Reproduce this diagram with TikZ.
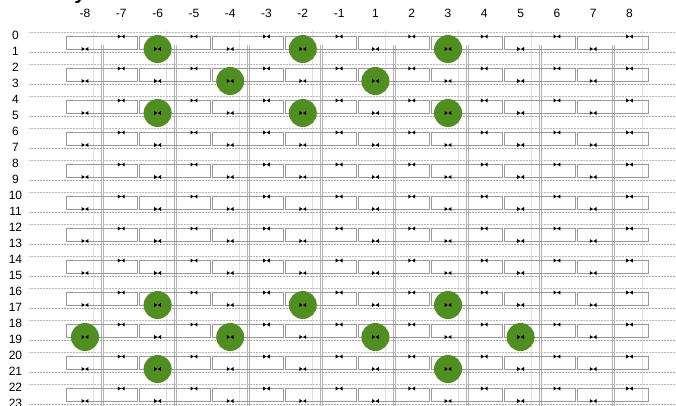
\documentclass[tikz,border=0pt]{standalone}
\usepackage{fontspec}
\setmainfont{Liberation Sans}
\usetikzlibrary{arrows.meta,positioning}
\definecolor{qgreen}{RGB}{80,142,34}

\begin{document}
\begin{tikzpicture}[
  x=1pt, y=-1pt,
  font=\fontsize{12}{14}\selectfont,
  rowline/.style={draw=black!28, densely dotted, line width=0.5pt},
  cell/.style={draw=black!40, line width=0.45pt},
  rail/.style={draw=black!30, line width=0.4pt},
  tick/.style={draw=black!12, line width=0.4pt},
  site/.style={circle, fill=qgreen, minimum size=28pt, inner sep=0pt},
  lbl/.style={inner sep=0pt}
]
  \useasboundingbox (0,0) rectangle (676,406);

  % cut-off title
  \node[font=\fontsize{20}{24}\selectfont\bfseries, anchor=base, inner sep=0pt]
    (title) at (80,-0.5) {y};

  % column and row labels
  \foreach \c [count=\i from 0] in {-8,-7,-6,-5,-4,-3,-2,-1,1,2,3,4,5,6,7,8}
    \node[lbl] (col\i) at ({85+36.3*\i},13) {\c};
  \foreach \r in {0,...,23}
    \node[lbl] (row\r) at (15.5,{35+16*\r}) {\r};

  % faint ticks and vertical rails
  \foreach \j in {0,...,6}
    \draw[tick] ({93+73*\j},30) -- ({93+73*\j},406);
  \draw[tick] (642,30) -- (642,406);
  \foreach \j in {0,...,7} {
    \draw[rail] ({101+73*\j},45) -- ({101+73*\j},406);
    \draw[rail] ({102.8+73*\j},45) -- ({102.8+73*\j},406);
  }

  % row lines and cells
  \foreach \m in {0,...,11} {
    \draw[rowline] (29,{32+32*\m}) -- (676,{32+32*\m});
    \draw[rowline, black!35] (29,{52+32*\m}) -- (676,{52+32*\m});
    \foreach \j in {0,...,7}
      \draw[cell] ({66+73*\j},{36.5+32*\m}) rectangle ({137+73*\j},{49+32*\m});
  }

  % occupied sites
  \foreach \i/\r in {2/1,6/1,10/1,4/3,8/3,2/5,6/5,10/5,
                     2/17,6/17,10/17,0/19,4/19,8/19,12/19,2/21,10/21}
    \node[site] (q\i-\r) at ({85+36.3*\i},{33+16*\r}) {};

  % pins
  \foreach \m in {0,...,11}
    \foreach \j in {0,...,7}
      \foreach \px/\py in {{121.3+72.6*\j}/{36.5+32*\m},{85+72.6*\j}/{49+32*\m}} {
        \fill (\px-3.4,\py-2) -- (\px-0.3,\py) -- (\px-3.4,\py+2) -- cycle;
        \fill (\px+3.4,\py-2) -- (\px+0.3,\py) -- (\px+3.4,\py+2) -- cycle;
      }
\end{tikzpicture}
\end{document}
